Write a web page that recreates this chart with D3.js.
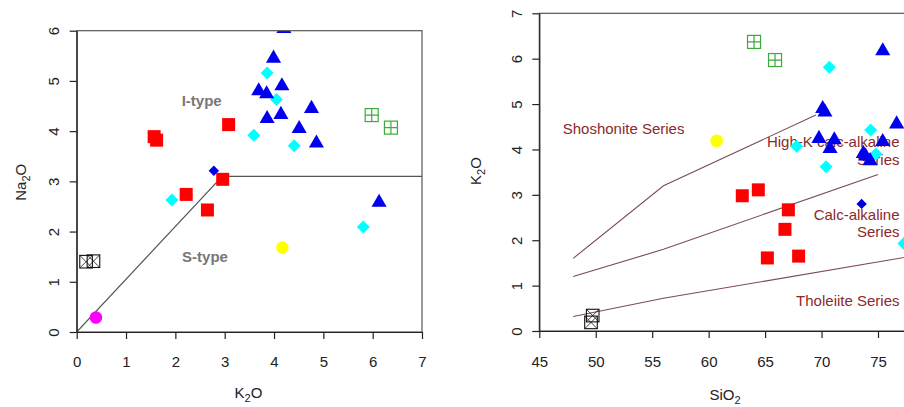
<!DOCTYPE html>
<html>
<head>
<meta charset="utf-8">
<script src="https://cdn.jsdelivr.net/npm/d3@7"></script>
<style>
  body { margin: 0; background: #fff; }
  svg { display: block; font-family: "Liberation Sans", Arial, sans-serif; }
</style>
</head>
<body>
<script>
var w = 904,
    h = 407;

// left panel: K2O (x) vs Na2O (y)
var leftTriangles = [[4.20,6.04],[3.99,5.45],[4.16,4.90],[3.69,4.80],[3.85,4.74],[4.76,4.45],
                     [4.14,4.33],[3.86,4.25],[4.51,4.05],[4.86,3.76],[6.13,2.58]];
var leftCyan = [[3.86,5.16],[4.05,4.63],[3.59,3.92],[4.41,3.71],[1.93,2.63],[5.81,2.09]];
var leftBlueDiamond = [[2.78,3.21]];
var leftRed = [[1.57,3.89],[1.62,3.82],[3.08,4.13],[2.96,3.04],[2.22,2.74],[2.65,2.43]];
var leftGreen = [[5.98,4.32],[6.37,4.07]];
var leftYellow = [[4.17,1.68]];
var leftMagenta = [[0.39,0.29]];
var leftBlack = [[0.19,1.40],[0.34,1.41]];
var isLine = [[0,0],[2.95,3.1],[7,3.1]];
var leftXTicks = [0,1,2,3,4,5,6,7];
var leftYTicks = [0,1,2,3,4,5,6];

// right panel: SiO2 (x) vs K2O (y)
var rightTriangles = [[75.42,6.17],[70.1,4.90],[70.3,4.82],[76.65,4.56],[69.77,4.24],[71.13,4.21],
                      [75.42,4.17],[70.75,4.02],[73.7,3.91],[73.9,3.85],[74.3,3.75]];
var rightCyan = [[70.69,5.81],[74.35,4.43],[67.8,4.07],[74.82,3.90],[70.4,3.62],[77.3,1.93]];
var rightBlueDiamond = [[73.55,2.80]];
var rightRed = [[62.98,2.98],[64.4,3.11],[67.06,2.67],[66.76,2.24],[65.2,1.61],[67.97,1.65]];
var rightGreen = [[64.02,6.37],[65.88,5.97]];
var rightYellow = [[60.71,4.19]];
var rightBlack = [[49.73,0.34],[49.58,0.19]];
var shoshoniteLine = [[48,1.6],[56,3.2],[69.5,4.76]];
var highKLine = [[48,1.2],[56,1.8],[75,3.45]];
var tholeiiteLine = [[48,0.32],[56,0.72],[78,1.65]];
var rightXTicks = [45,50,55,60,65,70,75];
var rightYTicks = [0,1,2,3,4,5,6,7];

var svg = d3.select("body").append("svg")
    .attr("width", w)
    .attr("height", h);

var defs = svg.append("defs");
defs.append("clipPath").attr("id", "clip-left").
  append("rect").attr("x", 76.7).attr("y", 30.7).attr("width", 345.3).attr("height", 301.3);

// marker shapes, roughly like R's pch symbols
var shapes = {
  triangle: function(g, c) {
    var r = 8.7;
    g.append("path").
      attr("d", "M0," + (-r) + "L" + (r*0.866) + "," + (r/2) + "L" + (-r*0.866) + "," + (r/2) + "Z").
      attr("fill", c);
  },
  diamond: function(g, c, s) {
    s = s || 6.5;
    g.append("path").attr("d", "M0," + (-s) + "L" + s + ",0L0," + s + "L" + (-s) + ",0Z").attr("fill", c);
  },
  square: function(g, c) {
    g.append("rect").attr("x", -6.5).attr("y", -6.5).attr("width", 13).attr("height", 13).attr("fill", c);
  },
  squarePlus: function(g, c) {
    var s = 6.5;
    g.append("rect").attr("x", -s).attr("y", -s).attr("width", 2*s).attr("height", 2*s).
      attr("fill", "none").attr("stroke", c).attr("stroke-width", 1.2);
    g.append("path").attr("d", "M0," + (-s) + "V" + s + "M" + (-s) + ",0H" + s).
      attr("stroke", c).attr("stroke-width", 1.2);
  },
  squareX: function(g, c) {
    var s = 6.3;
    g.append("rect").attr("x", -s).attr("y", -s).attr("width", 2*s).attr("height", 2*s).
      attr("fill", "none").attr("stroke", c).attr("stroke-width", 1.1);
    g.append("path").attr("d", "M" + (-s) + "," + (-s) + "L" + s + "," + s + "M" + s + "," + (-s) + "L" + (-s) + "," + s).
      attr("stroke", c).attr("stroke-width", 0.8);
  },
  circle: function(g, c) {
    g.append("circle").attr("r", 6.3).attr("fill", c);
  }
};

function drawPoints(layer, data, x, y, shape, color, size) {
  layer.selectAll(null).data(data).enter().append("g").
    attr("transform", function(d) { return "translate(" + x(d[0]) + "," + y(d[1]) + ")"; }).
    each(function() { shapes[shape](d3.select(this), color, size); });
}

function axisTitle(g, main, sub, rest, x, y, rotate) {
  var t = g.append("text").
    attr("transform", "translate(" + x + "," + y + ")" + (rotate ? " rotate(-90)" : "")).
    attr("text-anchor", "middle").
    attr("font-size", 15).
    attr("fill", "#222");
  t.append("tspan").text(main);
  t.append("tspan").attr("font-size", 11).attr("dy", 4).text(sub);
  t.append("tspan").attr("dy", -4).text(rest);
}

function drawFrame(x, y, xTicks, yTicks, xLabelPad, yLabelOff) {
  var x0 = x.range()[0], y0 = y.range()[0], y1 = y.range()[1];
  var xr = x(x.domain()[1]);
  var fmt = d3.format("d");

  svg.append("rect").
    attr("x", x0).attr("y", y1).
    attr("width", xr - x0).attr("height", y0 - y1).
    attr("fill", "none").attr("stroke", "#555").attr("stroke-width", 1.2);

  var xAxis = svg.append("g").
    attr("transform", "translate(0," + y0 + ")").
    call(d3.axisBottom(x).tickValues(xTicks).tickFormat(fmt).tickSize(7).tickSizeOuter(0).tickPadding(xLabelPad));
  var yAxis = svg.append("g").
    attr("transform", "translate(" + x0 + ",0)").
    call(d3.axisLeft(y).tickValues(yTicks).tickFormat(fmt).tickSize(7).tickSizeOuter(0));

  [xAxis, yAxis].forEach(function(a) {
    a.selectAll("path, line").attr("stroke", "#222").attr("stroke-width", 1.2);
    a.selectAll("text").attr("font-size", 15).attr("fill", "#222").
      attr("font-family", "Liberation Sans, Arial, sans-serif");
  });

  yAxis.selectAll("text").
    attr("x", null).attr("dy", null).
    attr("text-anchor", "middle").
    attr("transform", "translate(" + yLabelOff + ",0) rotate(-90)");
}

// ---------- left panel ----------
var lx = d3.scaleLinear().domain([0, 7]).range([76.7, 422]);
var ly = d3.scaleLinear().domain([0, 6]).range([332, 30.7]);

var left = svg.append("g").attr("clip-path", "url(#clip-left)");

left.append("path").
  datum(isLine).
  attr("d", d3.line().x(function(d) { return lx(d[0]); }).y(function(d) { return ly(d[1]); })).
  attr("fill", "none").attr("stroke", "#555").attr("stroke-width", 1.2);

left.append("text").attr("x", 201.7).attr("y", 105.5).attr("text-anchor", "middle").
  attr("font-size", 15).attr("font-weight", "bold").attr("fill", "#777").text("I-type");
left.append("text").attr("x", 205).attr("y", 261.5).attr("text-anchor", "middle").
  attr("font-size", 15).attr("font-weight", "bold").attr("fill", "#777").text("S-type");

drawPoints(left, leftBlack, lx, ly, "squareX", "#111");
drawPoints(left, leftMagenta, lx, ly, "circle", "#ff00ff");
drawPoints(left, leftYellow, lx, ly, "circle", "#ffff00");
drawPoints(left, leftGreen, lx, ly, "squarePlus", "#3daa3d");
drawPoints(left, leftRed, lx, ly, "square", "#ff0000");
drawPoints(left, leftBlueDiamond, lx, ly, "diamond", "#0000e8", 5.2);
drawPoints(left, leftCyan, lx, ly, "diamond", "#00ffff");
drawPoints(left, leftTriangles, lx, ly, "triangle", "#0000ee");

drawFrame(lx, ly, leftXTicks, leftYTicks, 17, -17.4);
axisTitle(svg, "K", "2", "O", 248.5, 397.5, false);
axisTitle(svg, "Na", "2", "O", 25.5, 182.3, true);

// ---------- right panel ----------
var rx = d3.scaleLinear().domain([45, 80]).range([539.3, 539.3 + 35 * 11.29]);
var ry = d3.scaleLinear().domain([0, 7]).range([331, 13.3]);

var right = svg.append("g");
var seriesLine = d3.line().x(function(d) { return rx(d[0]); }).y(function(d) { return ry(d[1]); });

[shoshoniteLine, highKLine, tholeiiteLine].forEach(function(l) {
  right.append("path").datum(l).attr("d", seriesLine).
    attr("fill", "none").attr("stroke", "#7a4b55").attr("stroke-width", 1.1);
});

var seriesText = "#8b2a2a";
function seriesLabel(txt, x, y, anchor) {
  right.append("text").attr("x", x).attr("y", y).attr("font-size", 15).attr("fill", seriesText).
    attr("text-anchor", anchor).text(txt);
}
seriesLabel("Shoshonite Series", 562.7, 134, "start");
seriesLabel("High-K calc-alkaline", 899.5, 146.7, "end");
seriesLabel("Series", 899.5, 165, "end");
seriesLabel("Calc-alkaline", 899.5, 219.5, "end");
seriesLabel("Series", 899.5, 236.7, "end");
seriesLabel("Tholeiite Series", 899.5, 306, "end");

drawPoints(right, rightBlack, rx, ry, "squareX", "#111");
drawPoints(right, rightYellow, rx, ry, "circle", "#ffff00");
drawPoints(right, rightGreen, rx, ry, "squarePlus", "#3daa3d");
drawPoints(right, rightRed, rx, ry, "square", "#ff0000");
drawPoints(right, rightBlueDiamond, rx, ry, "diamond", "#0000e8", 5.2);
drawPoints(right, rightCyan, rx, ry, "diamond", "#00ffff");
drawPoints(right, rightTriangles, rx, ry, "triangle", "#0000ee");

drawFrame(rx, ry, rightXTicks, rightYTicks, 18, -17.6);
axisTitle(svg, "SiO", "2", "", 725, 400, false);
axisTitle(svg, "K", "2", "O", 481, 171, true);
</script>
</body>
</html>
